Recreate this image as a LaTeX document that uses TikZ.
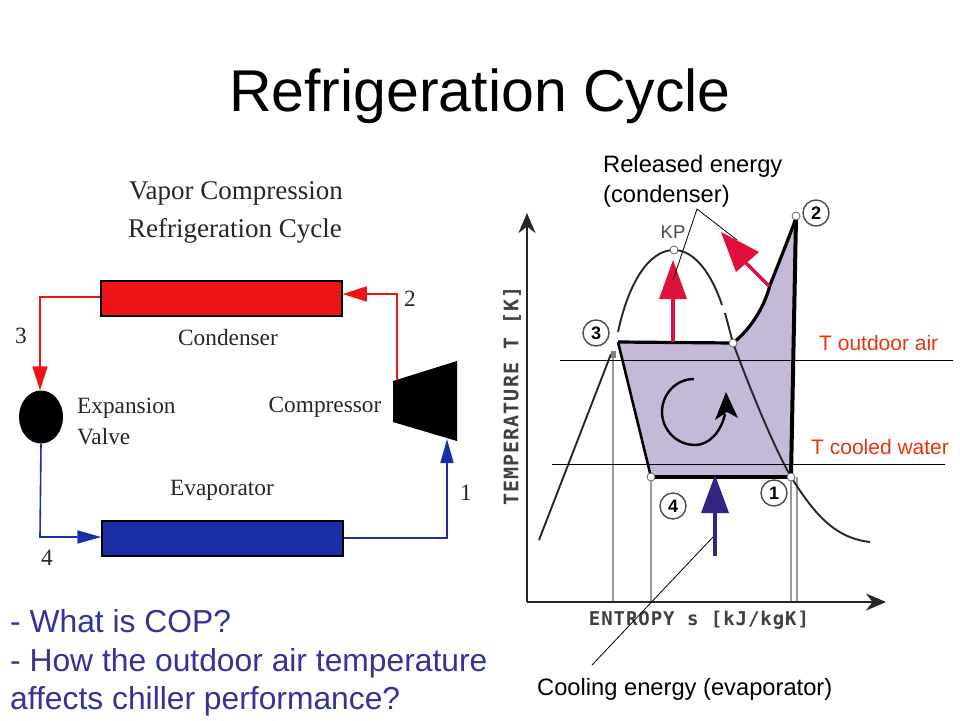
\documentclass[tikz,border=0pt]{standalone}
\usepackage{fontspec}
\setmainfont{Liberation Sans}
\newfontfamily\tnr{Liberation Serif}
\newfontfamily\axisfontx[LetterSpace=5]{DejaVu Sans Mono Bold}
\newfontfamily\axisfonty[LetterSpace=5]{DejaVu Sans Mono Bold}
\usetikzlibrary{arrows.meta,shapes.geometric}
\definecolor{condred}{HTML}{EC1414}
\definecolor{evapblue}{HTML}{1C2DA8}
\definecolor{cyclefill}{HTML}{C4B9D9}
\definecolor{heatred}{HTML}{E0103C}
\definecolor{coolblue}{HTML}{2E2585}
\definecolor{tempor}{HTML}{E8340C}
\definecolor{qblue}{HTML}{333399}
\definecolor{gridgrey}{HTML}{9A9A9A}
\definecolor{scan}{HTML}{262626}
\tikzset{
  x=1pt,y=-1pt,
  slidetext/.style={inner sep=0pt,anchor=base west,font=\fontsize{23.7}{27}\selectfont},
  question/.style={inner sep=0pt,anchor=base west,text=qblue,font=\fontsize{31.8}{36}\selectfont},
  templabel/.style={inner sep=0pt,text=tempor,font=\fontsize{21}{24}\selectfont},
  scanlabel/.style={inner sep=0pt,text=scan,font=\tnr\fontsize{23.3}{26}\selectfont},
  scanhead/.style={inner sep=0pt,text=scan,font=\tnr\fontsize{27}{30}\selectfont},
  exchanger/.style={draw=black,line width=1.5pt,minimum width=241pt,minimum height=35pt,inner sep=0pt},
  redpipe/.style={draw=condred,line width=1.6pt},
  bluepipe/.style={draw=evapblue,line width=1.6pt},
  redtip/.style={-{Triangle[length=24pt,width=15pt,fill=condred]}},
  bluetip/.style={-{Triangle[length=24pt,width=13pt,fill=evapblue]}},
  axisline/.style={draw=black!85,line width=1.8pt,-{Stealth[length=20pt,width=17pt]}},
  gridline/.style={draw=gridgrey,line width=1.3pt},
  satline/.style={draw=black!85,line width=1.9pt},
  cycleedge/.style={draw=black,line width=3.2pt},
  state/.style={circle,draw=black!70,fill=white,line width=1.4pt,minimum size=26pt,inner sep=0pt,font=\bfseries\fontsize{18}{18}\selectfont},
  openpt/.style={circle,draw=black!60,fill=white,line width=.8pt,minimum size=8pt,inner sep=0pt},
  leader/.style={draw=black,line width=.8pt},
  heatarrow/.style={draw=heatred,line width=3.2pt},
}
\begin{document}
\begin{tikzpicture}
\useasboundingbox (0,0) rectangle (960,720);
\fill[white] (0,0) rectangle (960,720);
\node[inner sep=0pt,font=\fontsize{59}{64}\selectfont] (title) at (480,96) {Refrigeration Cycle};

% ---- left schematic
\node[scanhead] (h1) at (236,193) {Vapor Compression};
\node[scanhead] (h2) at (235,231) {Refrigeration Cycle};
\node[exchanger,fill=condred] (cond) at (221.5,298.5) {};
\node[exchanger,fill=evapblue] (evap) at (222.5,538.5) {};
\node[ellipse,fill=black,minimum width=44pt,minimum height=53pt,inner sep=0pt] (valve) at (41,417) {};
\fill[black] (393,381) -- (457,361) -- (457,441) -- (393,422) -- cycle;
\coordinate (compTop) at (397,380);
\coordinate (compBot) at (447,439);
\coordinate (cr) at (397,294);
\coordinate (cl) at (40,297);
\coordinate (el) at (40,537);
\coordinate (er) at (447,538);
\draw[redpipe,redtip] (compTop) -- (cr) -- (cr -| cond.east);
\draw[redpipe,redtip] (cl -| cond.west) -- (cl) -- (valve.north -| cl);
\draw[bluepipe,bluetip] (valve.south) -- (el) -- (el -| evap.west);
\draw[bluepipe,bluetip] (er -| evap.east) -- (er) -- (compBot);
\node[scanlabel] (lcond) at (228,338) {Condenser};
\node[scanlabel,anchor=west] (lexp) at (77,408) {Expansion};
\node[scanlabel,anchor=west] (lval) at (77,437) {Valve};
\node[scanlabel] (lcomp) at (325,407) {Compressor};
\node[scanlabel] (levap) at (222,490) {Evaporator};
\node[scanlabel] (n2) at (410,299) {2};
\node[scanlabel] (n3) at (21,336) {3};
\node[scanlabel] (n1) at (466,493) {1};
\node[scanlabel] (n4) at (47,558) {4};

% ---- T-s diagram
\fill[cyclefill] (618,342) -- (733,343) .. controls (752,328) and (765,305) .. (770,285) .. controls (778,265) and (788,240) .. (796,218) -- (791,477) -- (651,477) -- cycle;
\draw[gridline] (613,353) -- (613,602);
\draw[gridline] (651,477) -- (651,602);
\draw[gridline] (791,477) -- (791,602);
\draw[gridline] (797,477) -- (797,602);
\coordinate (org) at (527,602);
\coordinate (ytip) at (527,213);
\coordinate (xtip) at (886,602);
\draw[axisline] (org) -- (ytip);
\draw[axisline] (org) -- (xtip);
\node[inner sep=0pt,rotate=90,text=black!75,font=\axisfonty\fontsize{20}{20}\selectfont] (ylab) at (512,396) {TEMPERATURE T [K]};
\node[inner sep=0pt,text=black!75,font=\axisfontx\fontsize{19}{19}\selectfont] (xlab) at (699,620) {ENTROPY s [kJ/kgK]};
% saturation curve
\draw[satline] (539,540) -- (611,354);
\fill[gray] (611,351) rectangle (616,358);
\draw[satline] (618,332) .. controls (628,285) and (648,250) .. (674,250) .. controls (695,250) and (712,275) .. (722,305);
\draw[satline] (725,313) -- (733,343) .. controls (745,375) and (770,440) .. (791,477) .. controls (815,515) and (835,538) .. (870,542);
% cycle edges
\draw[cycleedge] (618,342) -- (733,343);
\draw[cycleedge] (733,343) .. controls (752,328) and (765,305) .. (770,285) .. controls (778,265) and (788,240) .. (796,218);
\draw[cycleedge,line width=4pt] (796,218) -- (791,477);
\draw[cycleedge] (791,477) -- (651,477);
\draw[cycleedge,line width=2.6pt] (651,477) -- (618,342);
% heat arrows
\coordinate (ha) at (673,342);
\coordinate (hb) at (769,286);
\draw[heatarrow] (ha) -- (673,295);
\fill[heatred] (673,260) -- (687,299) -- (659,299) -- cycle;
\draw[heatarrow] (hb) -- (740,257);
\fill[heatred] (721,232) -- (759,252) -- (736,272) -- cycle;
\draw[draw=coolblue,line width=3.2pt] (715,556) -- (715,510);
\fill[coolblue] (715,475) -- (729,513) -- (701,513) -- cycle;
% rotation arrow
\draw[black,line width=2.4pt] (694,379) .. controls (676,379) and (662,394) .. (662,412) .. controls (662,430) and (677,445) .. (695,445) .. controls (709,445) and (721,432) .. (725,414);
\fill[black] (726,392) -- (738,418) -- (727,412) -- (715,420) -- cycle;
% state markers
\node[state] (s3) at (596,333) {3};
\node[state] (s2) at (816,213) {2};
\node[state] (s1) at (774,493) {1};
\node[state] (s4) at (673,506) {4};
\node[openpt] (pkp) at (674,250) {};
\node[openpt] (p2) at (796,216) {};
\node[openpt] (p3) at (733,343) {};
\node[openpt] (p4) at (651,477) {};
\node[openpt] (p1) at (791,477) {};
\node[inner sep=0pt,text=black!70,font=\fontsize{18.5}{18}\selectfont] (kp) at (673,232) {KP};
% temperature lines
\coordinate (oa) at (560,360);
\coordinate (ob) at (953,360);
\coordinate (wa) at (552,464);
\coordinate (wb) at (945,464);
\draw[leader] (oa) -- (ob);
\draw[leader] (wa) -- (wb);
\node[templabel,anchor=base west] (tout) at (819,350) {T outdoor air};
\node[templabel,anchor=base west] (twat) at (811,454) {T cooled water};
% annotations
\node[slidetext] (rel1) at (603,172) {Released energy};
\node[slidetext] (rel2) at (603,202) {(condenser)};
\node[slidetext] (coolt) at (537,695) {Cooling energy (evaporator)};
\coordinate (la) at (697,209);
\coordinate (lb) at (673,280);
\coordinate (lc) at (737,240);
\coordinate (ld) at (713,537);
\coordinate (le) at (592,665);
\draw[leader] (lb) -- (la) -- (lc);
\draw[leader] (ld) -- (le);
% questions
\node[question] (q1) at (10,632) {- What is COP?};
\node[question] (q2) at (10,671) {- How the outdoor air temperature};
\node[question] (q3) at (10,709) {affects chiller performance?};
\end{tikzpicture}
\end{document}
